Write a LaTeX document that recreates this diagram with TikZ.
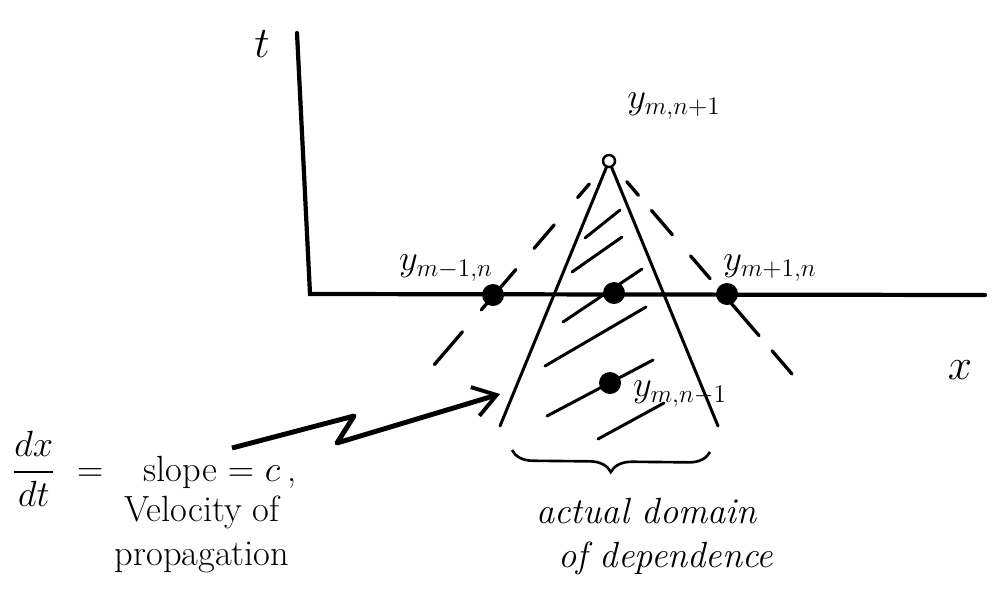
\documentclass[tikz,border=0pt]{standalone}
\usepackage{amsmath}
\usetikzlibrary{arrows.meta,positioning,calc,decorations.pathreplacing}

\begin{document}
\begin{tikzpicture}[x=0.02cm,y=-0.02cm,font=\LARGE,
 dot/.style={circle,fill=black,inner sep=0pt,minimum size=0.44cm},
 opendot/.style={circle,draw=black,line width=1.4pt,fill=white,inner sep=0pt,minimum size=0.24cm},
 axis/.style={line width=2.4pt,line cap=round},
 edge/.style={line width=1.7pt,line cap=round},
 cone/.style={line width=1.9pt,line cap=round},
 hatch/.style={line width=1.7pt,line cap=round},
 arr/.style={-{Straight Barb[length=4.5mm,width=6mm,line width=2.2pt]},line width=2.8pt,line join=round}]
\useasboundingbox (0,0) rectangle (996,596);
% axes
\coordinate (ttop) at (297,33);
\coordinate (origin) at (310,294);
\coordinate (xend) at (985,295);
\draw[axis] (ttop) -- (origin) -- (xend);
\node (tlab) at (262,44) {\Huge $t$};
\node (xlab) at (960,370) {\Huge $x$};
% grid points
\node[opendot] (apex) at (609,161) {};
\node[dot] (left) at (493,295) {};
\node[dot] (mid) at (614,293) {};
\node[dot] (right) at (727,294) {};
\node[dot] (low) at (610,383) {};
\node (apexlab) at (674,106) {\huge $y_{m,n+1}$};
\node (leftlab) at (446,268) {\huge $y_{m-1,n}$};
\node (rightlab) at (770,268) {\huge $y_{m+1,n}$};
\node (lowlab) at (680,394) {\huge $y_{m,n-1}$};
% cone of dependence
\coordinate (lfoot) at (500,426);
\coordinate (rfoot) at (718,426);
\coordinate (ldash) at (434,365);
\coordinate (rdash) at (792,374);
\draw[edge] (apex) -- (lfoot);
\draw[edge] (apex) -- (rfoot);
\draw[cone,dash pattern=on 10.2pt off 20.5pt on 17.6pt off 15.9pt on 30.2pt off 16.5pt on 24.5pt off 13.1pt,dash phase=135.4pt] (apex) -- (ldash);
\draw[cone,dash pattern=on 10.2pt off 11.4pt on 18.2pt off 15.9pt on 17.1pt off 13.1pt on 29.6pt off 11.4pt on 18.2pt off 11.4pt,dash phase=145.1pt] (apex) -- (rdash);
% hatching
\foreach \xa/\ya/\xb/\yb in {585/238/620/210,572/272/622/237,563/322/642/269,545/366/646/307,547/416/653/360,598/439/664/403}
 \draw[hatch] (\xa,\ya) -- (\xb,\yb);
% brace and its label
\coordinate (bl) at (512,450);
\coordinate (br) at (710,452);
\draw[line width=1.5pt,decorate,decoration={brace,mirror,amplitude=12pt}] (bl) -- (br);
\node[align=left,anchor=west,font=\huge\itshape] (domain) at (530,537) {actual domain\\\hspace*{0.6em}of dependence};
% slope remark
\node[anchor=base west,inner sep=0pt,font=\huge] (slope) at (12,481) {$\dfrac{dx}{dt}$\hspace{0.6em}$=$\hspace{1.1em}slope\hspace{0.3em}$=$\hspace{0.3em}$c$\hspace{0.2em},};
\node[align=center,font=\huge] (vel) at (202,534) {Velocity of\\propagation};
\coordinate (zstart) at (232,448);
\coordinate (ztop) at (354,416);
\coordinate (zbot) at (337,443);
\coordinate (ztip) at (500,394);
\draw[arr] (zstart) -- (ztop) -- (zbot) -- (ztip);
\end{tikzpicture}
\end{document}
